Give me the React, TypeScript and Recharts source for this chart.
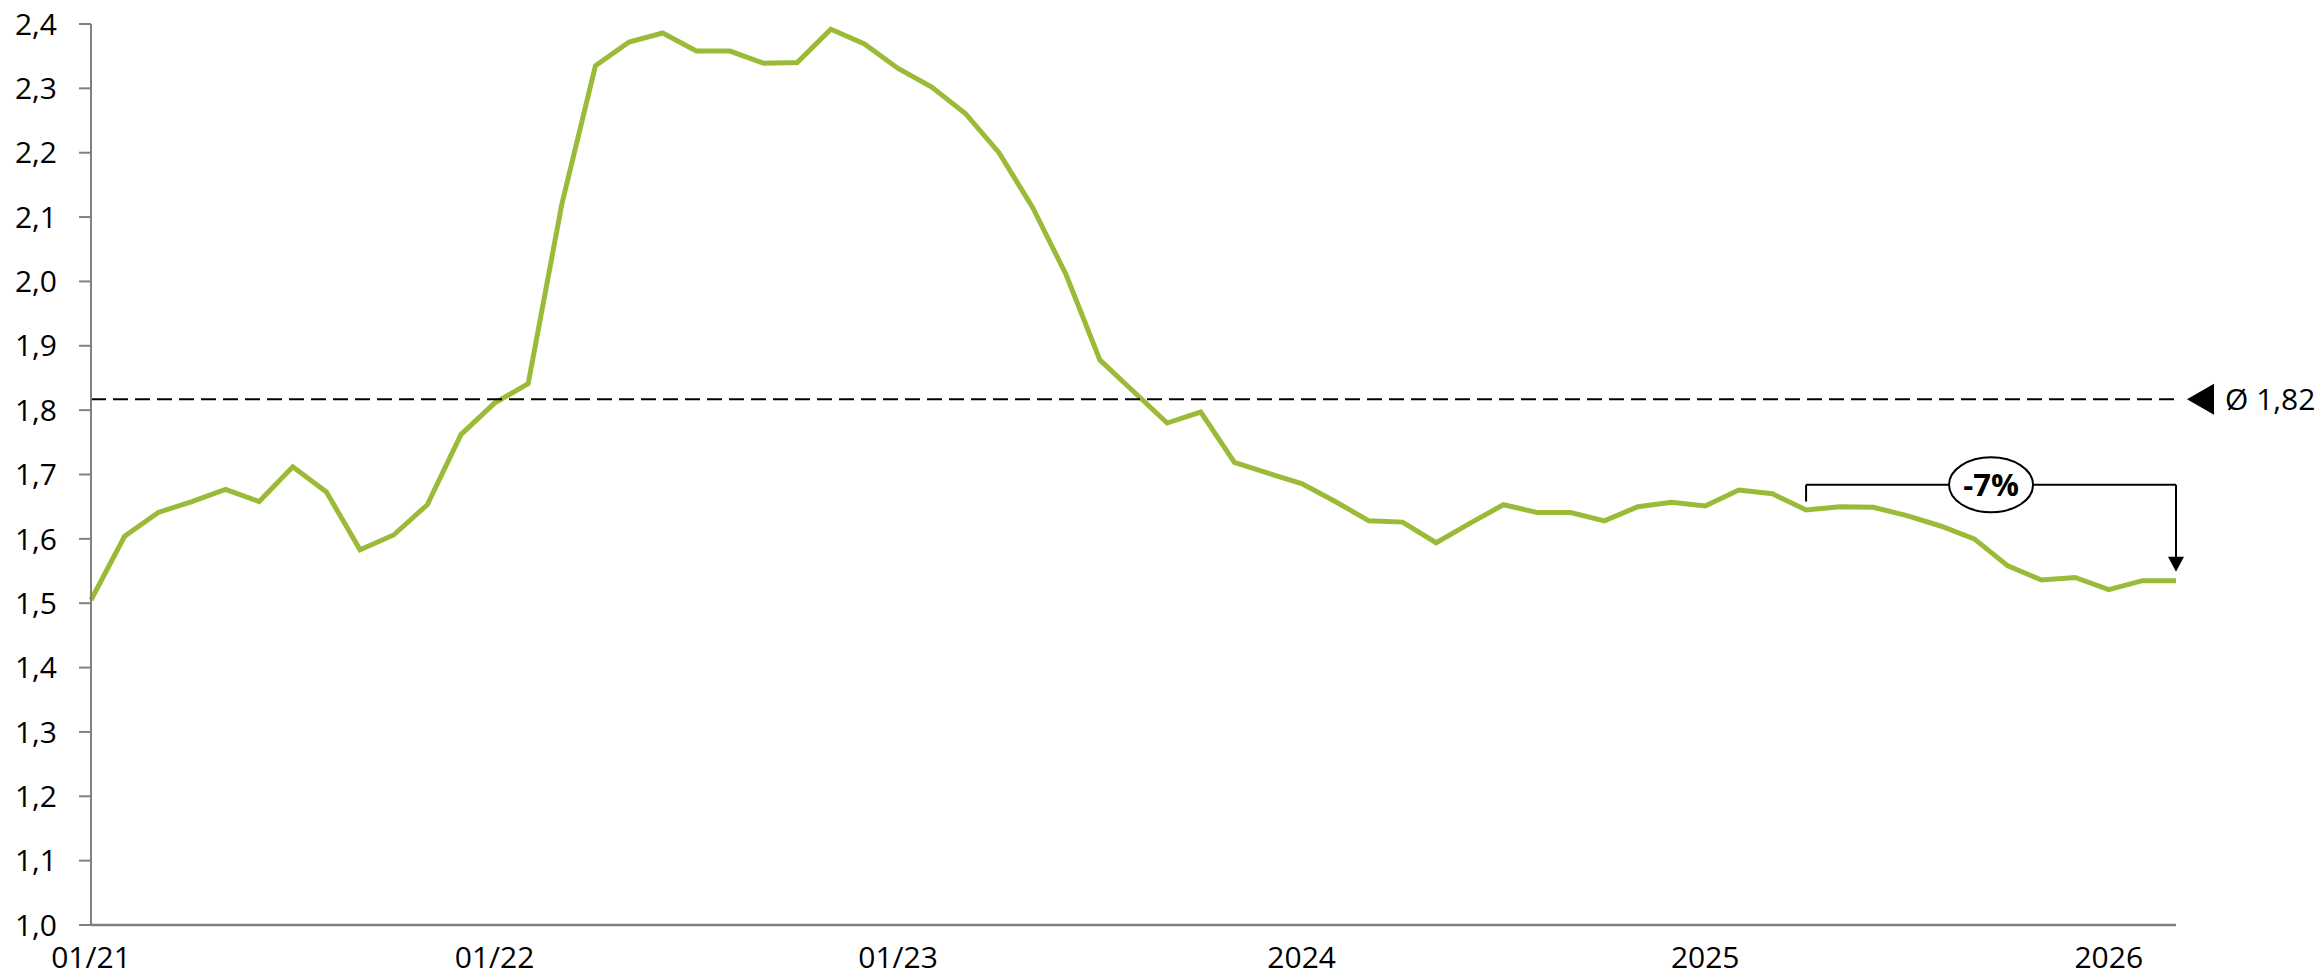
import React from "react";
import {
  LineChart, Line, XAxis, YAxis, ReferenceLine, ReferenceDot,
} from "recharts";

// monthly values, 01/21 .. 03/26
const VALUES = [
  1.505, 1.604, 1.641, 1.658, 1.677, 1.658, 1.712, 1.673, 1.583, 1.606, 1.653, 1.762,
  1.811, 1.841, 2.120, 2.335, 2.372, 2.386, 2.358, 2.358, 2.339, 2.340, 2.392, 2.369,
  2.331, 2.302, 2.261, 2.200, 2.115, 2.010, 1.878, 1.829, 1.780, 1.797, 1.719, 1.702,
  1.686, 1.658, 1.628, 1.626, 1.594, 1.624, 1.653, 1.641, 1.641, 1.628, 1.650, 1.657,
  1.651, 1.676, 1.670, 1.645, 1.650, 1.649, 1.636, 1.620, 1.600, 1.558, 1.536, 1.540,
  1.521, 1.535, 1.535,
];

const X_TICKS = [0, 12, 24, 36, 48, 60];
const X_LABELS = ["01/21", "01/22", "01/23", "2024", "2025", "2026"];
const Y_TICKS = [1.0, 1.1, 1.2, 1.3, 1.4, 1.5, 1.6, 1.7, 1.8, 1.9, 2.0, 2.1, 2.2, 2.3, 2.4];

const AVG = 1.817;
const AVG_LABEL = "Ø 1,82";

// -7% bracket (from month 51 to the last month)
const BR_FROM = 51;
const BR_TO = 62;
const BR_TOP = 1.684;
const BR_LOW = 1.658;
const BR_TIP = 1.549;
const BR_LABEL = "-7%";

const data = VALUES.map((v, i) => ({ i, v }));

const FONT = "'Open Sans', 'Noto Sans', sans-serif";
const GREEN = "#9BBB38";
const AXIS = "#808080";

// eslint-disable-next-line @typescript-eslint/no-explicit-any
const AvgLabel = (props: any) => {
  const vb = props.viewBox;
  const x = vb.x + vb.width;
  const y = vb.y;
  return (
    <g>
      <polygon points={`${x + 11},${y} ${x + 38},${y - 15.5} ${x + 38},${y + 15.5}`} fill="#000" />
      <text x={x + 49} y={y} dy="0.36em" fontSize={30} fill="#000" fontFamily={FONT}>{AVG_LABEL}</text>
    </g>
  );
};

// eslint-disable-next-line @typescript-eslint/no-explicit-any
const ArrowHead = (p: any) => (
  <polygon points={`${p.cx},${p.cy} ${p.cx - 8},${p.cy - 15} ${p.cx + 8},${p.cy - 15}`} fill="#000" />
);

// eslint-disable-next-line @typescript-eslint/no-explicit-any
const Badge = (p: any) => (
  <g>
    <ellipse cx={p.cx} cy={p.cy} rx={42} ry={27.5} fill="#fff" stroke="#000" strokeWidth={2} />
    <text x={p.cx} y={p.cy} dy="0.36em" textAnchor="middle" fontSize={31} fontWeight={700} fill="#000" fontFamily={FONT}>{BR_LABEL}</text>
  </g>
);

export default function App() {
  return (
    <div style={{ width: 2321, height: 976, fontFamily: FONT, background: "#fff" }}>
      <style>{"body{margin:0;overflow:hidden}"}</style>
      <LineChart width={2321} height={976} data={data} margin={{ top: 24, right: 145, bottom: 0, left: 0 }}>
        <XAxis
          dataKey="i" type="number" domain={[0, 62]} ticks={X_TICKS} interval={0}
          tickFormatter={(v: number) => X_LABELS[X_TICKS.indexOf(v)] ?? ""}
          height={51} tickSize={0} tickMargin={22} tickLine={false}
          axisLine={{ stroke: AXIS, strokeWidth: 2.5 }}
          tick={{ fontSize: 30, fill: "#000", fontFamily: FONT }}
        />
        <YAxis
          type="number" domain={[1.0, 2.4]} ticks={Y_TICKS} interval={0} width={91}
          tickFormatter={(v: number) => v.toFixed(1).replace(".", ",")}
          tickSize={12} tickMargin={22}
          tickLine={{ stroke: AXIS, strokeWidth: 2 }}
          axisLine={{ stroke: AXIS, strokeWidth: 2 }}
          tick={{ fontSize: 30, fill: "#000", fontFamily: FONT }}
        />
        <Line type="linear" dataKey="v" stroke={GREEN} strokeWidth={5} dot={false} activeDot={false} isAnimationActive={false} />
        <ReferenceLine y={AVG} stroke="#000" strokeWidth={2} strokeDasharray="15 7" label={(p: any) => <AvgLabel {...p} />} />
        <ReferenceLine segment={[{ x: BR_FROM, y: BR_LOW }, { x: BR_FROM, y: BR_TOP }]} stroke="#000" strokeWidth={2} />
        <ReferenceLine segment={[{ x: BR_FROM, y: BR_TOP }, { x: BR_TO, y: BR_TOP }]} stroke="#000" strokeWidth={2} />
        <ReferenceLine segment={[{ x: BR_TO, y: BR_TOP }, { x: BR_TO, y: BR_TIP + 0.015 }]} stroke="#000" strokeWidth={2} />
        <ReferenceDot x={BR_TO} y={BR_TIP} r={1} shape={ArrowHead} />
        <ReferenceDot x={(BR_FROM + BR_TO) / 2} y={BR_TOP} r={1} shape={Badge} />
      </LineChart>
    </div>
  );
}
